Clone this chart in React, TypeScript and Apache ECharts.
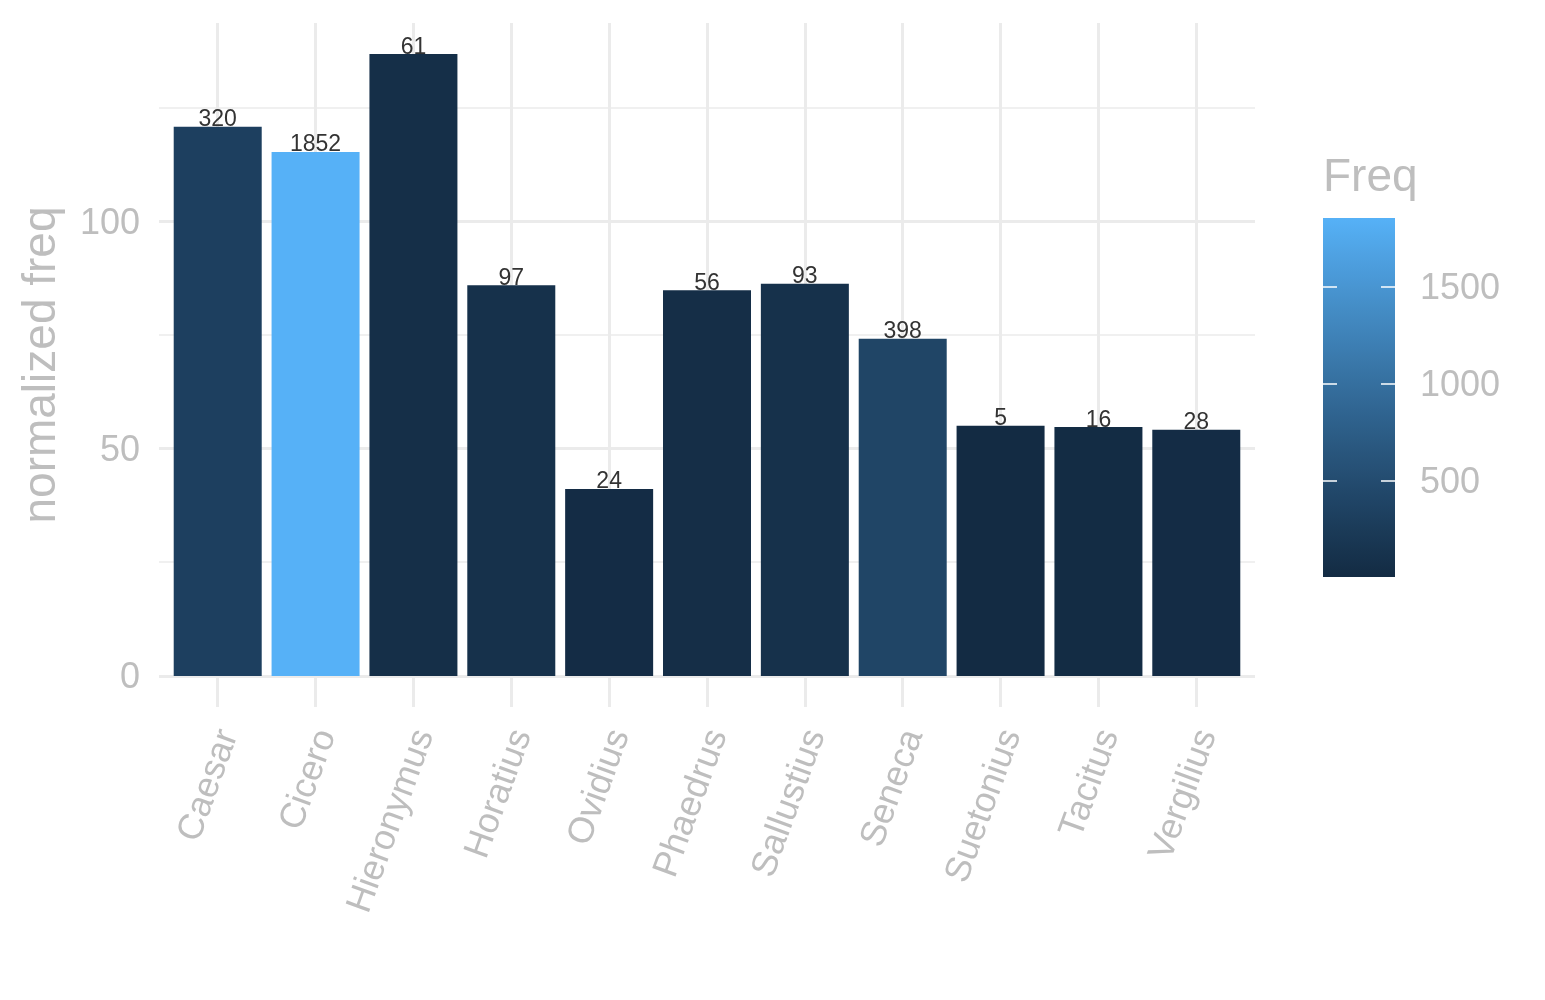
import React, { useEffect, useRef } from 'react';
import * as echarts from 'echarts';

// authors on the x axis, bar height = normalized frequency, fill = raw frequency
const authors = ['Caesar', 'Cicero', 'Hieronymus', 'Horatius', 'Ovidius', 'Phaedrus', 'Sallustius', 'Seneca', 'Suetonius', 'Tacitus', 'Vergilius'];
const normFreq = [120.7, 115.2, 136.7, 85.9, 41.1, 84.8, 86.2, 74.1, 55.0, 54.7, 54.1];
const freq = [320, 1852, 61, 97, 24, 56, 93, 398, 5, 16, 28];
const yTicks = [0, 50, 100];
const yMinorTicks = [25, 75, 125];
const freqTicks = [500, 1000, 1500];

const LOW = '#132B43';
const HIGH = '#56B1F7';
const GREY = '#bebebe';
const GRID = '#ebebeb';
const FONT = '"Liberation Sans", Arial, Helvetica, sans-serif';

// ggplot style gradient, interpolated in Lab space
const WHITE = [0.95047, 1, 1.08883];
function toLab(hex: string) {
  const rgb = [1, 3, 5].map((i) => parseInt(hex.slice(i, i + 2), 16) / 255);
  const [r, g, b] = rgb.map((c) => (c <= 0.04045 ? c / 12.92 : Math.pow((c + 0.055) / 1.055, 2.4)));
  const xyz = [
    0.4124564 * r + 0.3575761 * g + 0.1804375 * b,
    0.2126729 * r + 0.7151522 * g + 0.072175 * b,
    0.0193339 * r + 0.119192 * g + 0.9503041 * b,
  ];
  const f = xyz.map((v, i) => {
    const t = v / WHITE[i];
    return t > 0.008856 ? Math.cbrt(t) : 7.787 * t + 16 / 116;
  });
  return [116 * f[1] - 16, 500 * (f[0] - f[1]), 200 * (f[1] - f[2])];
}
function fromLab([L, a, bb]: number[]) {
  const fy = (L + 16) / 116;
  const fs = [fy + a / 500, fy, fy - bb / 200];
  const [X, Y, Z] = fs.map((t, i) => {
    const t3 = t * t * t;
    return WHITE[i] * (t3 > 0.008856 ? t3 : (t - 16 / 116) / 7.787);
  });
  const lin = [
    3.2404542 * X - 1.5371385 * Y - 0.4985314 * Z,
    -0.969266 * X + 1.8760108 * Y + 0.041556 * Z,
    0.0556434 * X - 0.2040259 * Y + 1.0572252 * Z,
  ];
  const out = lin.map((c) => {
    const v = c <= 0.0031308 ? 12.92 * c : 1.055 * Math.pow(c, 1 / 2.4) - 0.055;
    const n = Math.round(Math.min(1, Math.max(0, v)) * 255);
    return n.toString(16).padStart(2, '0');
  });
  return '#' + out.join('');
}
const labLow = toLab(LOW);
const labHigh = toLab(HIGH);
const mix = (t: number) => fromLab(labLow.map((v, i) => v + (labHigh[i] - v) * t));

const fMin = Math.min(...freq);
const fMax = Math.max(...freq);
const freqColor = (v: number) => mix((v - fMin) / (fMax - fMin));

export default function App() {
  const chartRef = useRef<HTMLDivElement>(null);

  useEffect(() => {
    if (!chartRef.current) return;
    const chart = echarts.init(chartRef.current, null, { renderer: 'svg' });

    const xs = authors.map((_, i) => i + 1);
    const top = Math.max(...normFreq);
    const pad = top * 0.05;
    const yMin = -pad;
    const yMax = top + pad;

    const stops = Array.from({ length: 21 }, (_, k) => ({ offset: k / 20, color: mix(1 - k / 20) }));

    const option: echarts.EChartsOption = {
      animation: false,
      textStyle: { fontFamily: FONT },
      title: {
        text: 'Freq',
        left: 1323,
        top: 152,
        padding: 0,
        textStyle: { fontSize: 46, fontWeight: 'normal', color: GREY, fontFamily: FONT },
      },
      grid: [
        { left: 159, right: 290, top: 23, bottom: 293 },
        { left: 1323, top: 218, width: 72, height: 359 },
      ],
      xAxis: [
        {
          type: 'value',
          gridIndex: 0,
          min: 0.4,
          max: authors.length + 0.6,
          axisLine: { show: false },
          axisTick: { show: false, customValues: xs },
          axisLabel: {
            customValues: xs,
            formatter: (v: number) => authors[Math.round(v) - 1],
            rotate: 70,
            fontSize: 36,
            color: GREY,
            margin: 20,
            verticalAlign: 'top',
            lineHeight: 18,
          },
          splitLine: { show: true, lineStyle: { color: GRID, width: 3 } },
        } as any,
        { type: 'category', gridIndex: 1, data: ['Freq'], show: false },
      ],
      yAxis: [
        {
          type: 'value',
          gridIndex: 0,
          min: yMin,
          max: yMax,
          name: 'normalized freq',
          nameLocation: 'middle',
          nameGap: 97,
          nameTextStyle: { fontSize: 46, color: GREY },
          axisLine: { show: false },
          axisTick: { show: false, customValues: yTicks },
          axisLabel: { customValues: yTicks, fontSize: 36, color: GREY, margin: 19 },
          splitLine: { show: true, lineStyle: { color: GRID, width: 3 } },
        } as any,
        {
          type: 'value',
          gridIndex: 0,
          position: 'right',
          min: yMin,
          max: yMax,
          axisLine: { show: false },
          axisTick: { show: false, customValues: yMinorTicks },
          axisLabel: { show: false },
          splitLine: { show: true, lineStyle: { color: GRID, width: 1.5 } },
        } as any,
        {
          type: 'value',
          gridIndex: 1,
          position: 'left',
          min: fMin,
          max: fMax,
          z: 5,
          axisLine: { show: false },
          axisTick: { show: true, inside: true, length: 14, customValues: freqTicks, lineStyle: { color: '#ffffff', width: 1.5 } },
          axisLabel: { show: false },
          splitLine: { show: false },
        } as any,
        {
          type: 'value',
          gridIndex: 1,
          position: 'right',
          min: fMin,
          max: fMax,
          z: 5,
          axisLine: { show: false },
          axisTick: { show: true, inside: true, length: 14, customValues: freqTicks, lineStyle: { color: '#ffffff', width: 1.5 } },
          axisLabel: { customValues: freqTicks, formatter: (v: number) => String(v), fontSize: 36, color: GREY, margin: 25 },
          splitLine: { show: false },
        } as any,
      ],
      series: [
        {
          type: 'bar',
          xAxisIndex: 0,
          yAxisIndex: 0,
          barWidth: 88,
          data: authors.map((_, i) => ({
            value: [i + 1, normFreq[i]],
            itemStyle: { color: freqColor(freq[i]) },
          })),
          label: {
            show: true,
            position: 'top',
            distance: -3,
            formatter: (p: any) => String(freq[p.dataIndex]),
            fontSize: 23,
            color: '#333333',
          },
        },
        {
          type: 'bar',
          xAxisIndex: 1,
          yAxisIndex: 3,
          barWidth: '100%',
          data: [fMax],
          itemStyle: { color: new echarts.graphic.LinearGradient(0, 0, 0, 1, stops) },
        },
      ],
    };

    chart.setOption(option);
    return () => {
      chart.dispose();
    };
  }, []);

  return <div ref={chartRef} style={{ position: 'fixed', left: 0, top: 0, width: 1545, height: 1000 }} />;
}
